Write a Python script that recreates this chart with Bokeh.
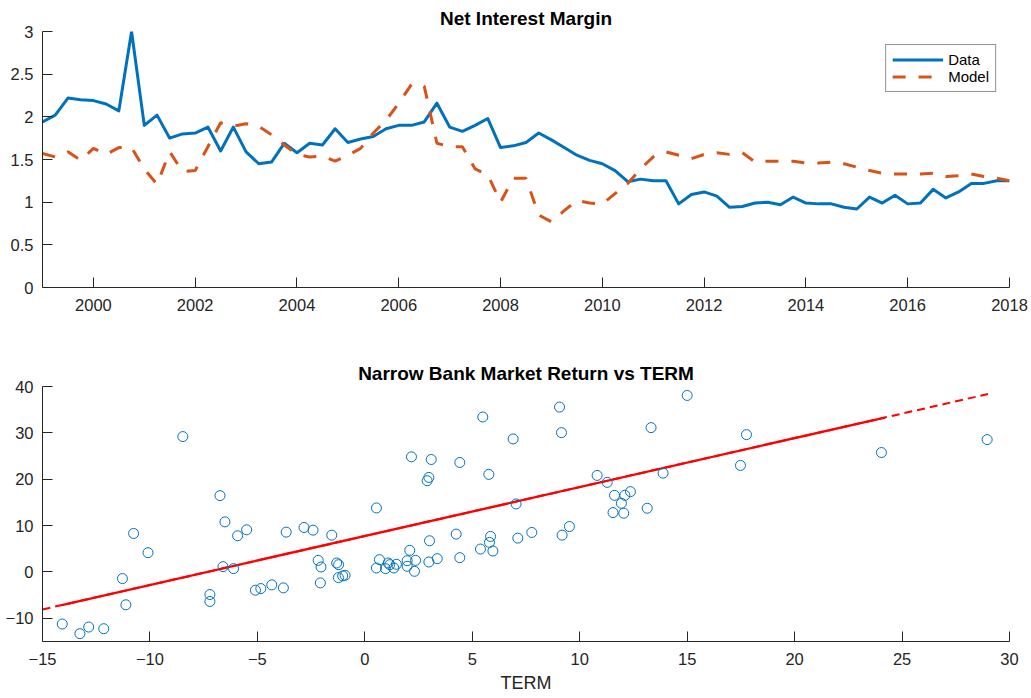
import numpy as np
from bokeh.plotting import figure
from bokeh.layouts import column
from bokeh.models import Range1d, FixedTicker, Legend, LegendItem, NumeralTickFormatter
from bokeh.embed import file_html
from bokeh.resources import INLINE

# ---------------- data ----------------
start_year = 1999.0
nim_data = [1.94, 2.02, 2.22, 2.20, 2.19, 2.15, 2.07, 3.00, 1.90, 2.02,
            1.75, 1.80, 1.81, 1.88, 1.60, 1.88, 1.59, 1.45, 1.47, 1.69,
            1.58, 1.69, 1.67, 1.86, 1.70, 1.74, 1.77, 1.86, 1.90, 1.90,
            1.94, 2.16, 1.88, 1.83, 1.90, 1.98, 1.64, 1.66, 1.70, 1.81,
            1.73, 1.64, 1.55, 1.49, 1.45, 1.37, 1.24, 1.27, 1.25, 1.25,
            0.98, 1.09, 1.12, 1.07, 0.94, 0.95, 0.99, 1.00, 0.97, 1.06,
            0.99, 0.98, 0.98, 0.94, 0.92, 1.06, 0.99, 1.08, 0.98, 0.99,
            1.15, 1.05, 1.12, 1.22, 1.22, 1.25, 1.25]
nim_model = [1.57, 1.53, 1.59, 1.49, 1.63, 1.56, 1.64, 1.64, 1.39, 1.21,
             1.59, 1.36, 1.37, 1.65, 1.93, 1.89, 1.92, 1.89, 1.79, 1.67,
             1.56, 1.53, 1.54, 1.48, 1.55, 1.63, 1.81, 1.96, 2.16, 2.38,
             2.36, 1.69, 1.65, 1.65, 1.39, 1.32, 1.00, 1.28, 1.28, 0.85,
             0.77, 0.90, 1.02, 0.99, 0.98, 1.10, 1.22, 1.39, 1.53, 1.59,
             1.55, 1.51, 1.56, 1.58, 1.56, 1.58, 1.47, 1.48, 1.48, 1.48,
             1.46, 1.46, 1.47, 1.45, 1.41, 1.37, 1.34, 1.33, 1.33, 1.33,
             1.34, 1.30, 1.31, 1.33, 1.30, 1.28, 1.25]
quarters = [start_year + 0.25 * i for i in range(len(nim_data))]
year_ticks = [2000, 2002, 2004, 2006, 2008, 2010, 2012, 2014, 2016, 2018]
nim_ticks = [0, 0.5, 1, 1.5, 2, 2.5, 3]

term = [-14.08, -13.26, -12.85, -12.15, -11.28, -11.12, -10.76, -10.09, -8.47, -7.21,
        -7.21, -6.74, -6.60, -6.51, -6.11, -5.92, -5.50, -5.09, -4.84, -4.33,
        -3.79, -3.66, -2.83, -2.41, -2.17, -2.04, -2.07, -1.54, -1.31, -1.22,
        -1.23, -1.03, -0.92, 0.54, 0.68, 0.54, 0.96, 1.09, 1.16, 1.35,
        1.47, 1.97, 1.97, 2.09, 2.17, 2.36, 2.31, 2.90, 2.98, 3.01,
        2.98, 3.09, 3.37, 4.25, 4.42, 4.42, 5.38, 5.49, 5.77, 5.85,
        5.80, 5.96, 6.90, 7.04, 7.12, 7.77, 9.06, 9.15, 9.18, 9.52,
        10.81, 11.28, 11.55, 11.62, 11.94, 12.05, 12.10, 12.36, 13.14, 13.32,
        13.88, 15.00, 17.76, 17.48, 24.04, 28.96]
bank_return = [-11.23, -13.31, -11.88, -12.24, -1.43, -7.08, 8.30, 4.15, 29.2, -4.87,
               -6.37, 16.46, 1.14, 10.8, 0.72, 7.80, 9.09, -3.94, -3.58, -2.79,
               -3.43, 8.59, 9.59, 9.02, 2.50, 1.07, -2.36, 7.94, 1.93, 1.57,
               -1.22, -0.86, -0.72, 13.81, 2.65, 0.86, 0.72, 1.93, 1.57, 0.86,
               1.65, 2.43, 1.22, 4.65, 24.83, 2.50, 0.14, 19.68, 20.39, 6.73,
               2.15, 24.26, 2.86, 8.16, 23.61, 3.08, 4.94, 33.42, 21.04, 7.66,
               6.37, 4.51, 28.69, 14.67, 7.30, 8.52, 35.56, 30.05, 7.94, 9.80,
               20.82, 19.32, 12.81, 16.53, 14.81, 12.67, 16.53, 17.32, 13.74, 31.13,
               21.32, 38.07, 29.62, 22.97, 25.76, 28.55]
fit_slope = 1.056
fit_intercept = 7.75
fit_solid_span = [-14.1, 24.2]
fit_dash_span = [-15.0, 29.0]
term_ticks = [-15, -10, -5, 0, 5, 10, 15, 20, 25, 30]
ret_ticks = [-10, 0, 10, 20, 30, 40]

# ---------------- style ----------------
FONT = "Liberation Sans"
AX = "#262626"
BLUE = "#0072BD"
ORANGE = "#D95319"


def style(p):
    p.outline_line_color = None
    p.xgrid.visible = False
    p.ygrid.visible = False
    p.background_fill_color = "white"
    p.border_fill_color = "white"
    for ax in (p.xaxis[0], p.yaxis[0]):
        ax.axis_line_color = AX
        ax.axis_line_width = 1
        ax.major_tick_line_color = AX
        ax.major_tick_in = 10
        ax.major_tick_out = 0
        ax.minor_tick_line_color = None
        ax.major_label_text_font = FONT
        ax.major_label_text_font_size = "16.5px"
        ax.major_label_text_color = AX
    p.yaxis[0].major_label_standoff = 9
    p.title.align = "center"
    p.title.text_font = FONT
    p.title.text_font_style = "bold"
    p.title.text_font_size = "19px"
    p.title.text_color = "black"
    p.title.standoff = 6


# ---------------- top: Net Interest Margin ----------------
p1 = figure(width=1031, height=330, x_range=Range1d(1999, 2018), y_range=Range1d(0, 3),
            output_backend="svg", toolbar_location=None,
            min_border_left=42, min_border_right=22, min_border_top=31, min_border_bottom=43,
            title="Net Interest Margin")
style(p1)
p1.xaxis.major_label_standoff = 11
p1.xaxis.ticker = FixedTicker(ticks=year_ticks)
p1.yaxis.ticker = FixedTicker(ticks=nim_ticks)
p1.yaxis.formatter = NumeralTickFormatter(format="0.[0]")

r_data = p1.line(quarters, nim_data, line_color=BLUE, line_width=3, line_join="round")
r_model = p1.line(quarters, nim_model, line_color=ORANGE, line_width=3, line_dash="13 13")

legend = Legend(items=[LegendItem(label="Data", renderers=[r_data]),
                       LegendItem(label="Model", renderers=[r_model])],
                location="top_right", margin=13, padding=6, spacing=0,
                glyph_width=51, glyph_height=17, label_height=17, label_standoff=5,
                label_text_font=FONT, label_text_font_size="15px", label_text_color="black",
                border_line_color=AX, border_line_width=1, background_fill_color="white",
                background_fill_alpha=1.0)
p1.add_layout(legend)

# ---------------- bottom: scatter ----------------
p2 = figure(width=1031, height=368, x_range=Range1d(-15, 30), y_range=Range1d(-15, 40),
            output_backend="svg", toolbar_location=None,
            min_border_left=42, min_border_right=22, min_border_top=56, min_border_bottom=57,
            title="Narrow Bank Market Return vs TERM")
style(p2)
p2.xaxis.ticker = FixedTicker(ticks=term_ticks)
p2.yaxis.ticker = FixedTicker(ticks=ret_ticks)
p2.xaxis.major_label_standoff = 11
p2.xaxis.axis_label = "TERM"
p2.xaxis.axis_label_text_font = FONT
p2.xaxis.axis_label_text_font_size = "18px"
p2.xaxis.axis_label_text_font_style = "normal"
p2.xaxis.axis_label_text_color = AX
p2.xaxis.axis_label_standoff = 5

dash_x = np.array(fit_dash_span)
solid_x = np.array(fit_solid_span)
p2.line(dash_x, fit_intercept + fit_slope * dash_x, line_color="red", line_width=2, line_dash="8 5")
p2.line(solid_x, fit_intercept + fit_slope * solid_x, line_color="red", line_width=2.3)
p2.scatter(term, bank_return, marker="circle", size=10, fill_color=None,
           line_color=BLUE, line_width=1)

layout = column(p1, p2, spacing=0)
open("out.html", "w").write(file_html(layout, INLINE))
